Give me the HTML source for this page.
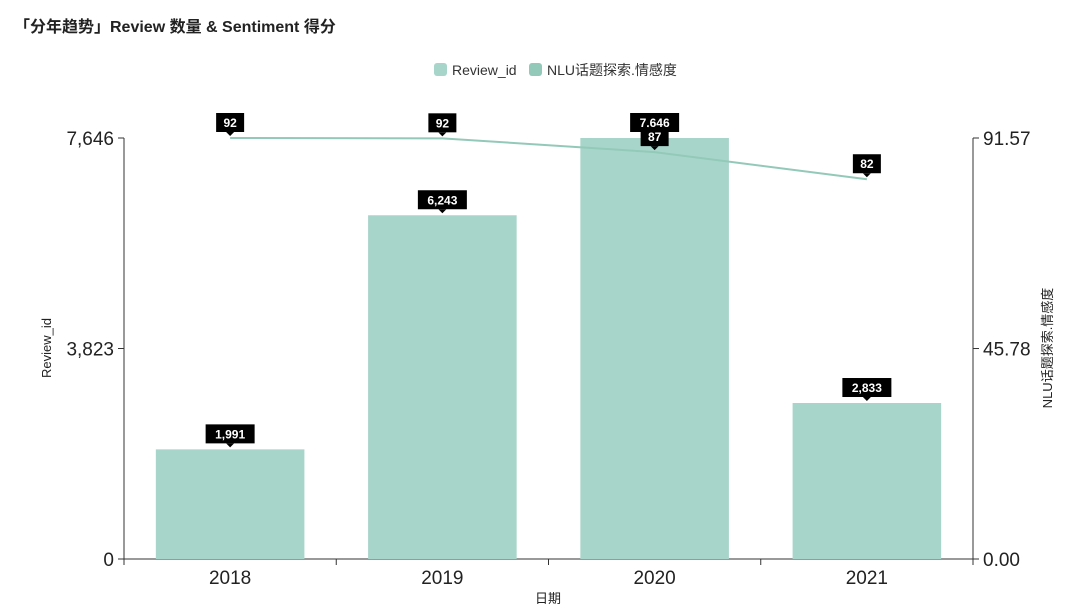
<!DOCTYPE html>
<html><head><meta charset="utf-8"><style>
body{margin:0;background:#fff;font-family:"Liberation Sans","Noto Sans CJK SC",sans-serif;}
#wrap{position:relative;width:1089px;height:614px;overflow:hidden;}
</style></head><body>
<div id="wrap">
<svg id="chart" width="1089" height="614" style="font-family:'Liberation Sans','Noto Sans CJK SC',sans-serif">
<text x="14" y="32" font-size="16" font-weight="bold" fill="#222">「分年趋势」Review 数量 &amp; Sentiment 得分</text>
<g>
<rect x="434" y="63" width="13" height="13" rx="3" fill="#a8d5ca"/>
<text x="452" y="75" font-size="14" fill="#333">Review_id</text>
<rect x="529" y="63" width="13" height="13" rx="3" fill="#93c9b8"/>
<text x="547" y="75" font-size="14" fill="#333">NLU话题探索.情感度</text>
</g>
<g id="plot"></g>
</svg>
</div>
<script>
const categories=["2018","2019","2020","2021"];
const reviewValues=[1991,6243,7646,2833];
const sentimentValues=[91.57,91.5,88.5,82.6];
const sentimentLabels=["92","92","87","82"];
const leftTicks=[0,3823,7646];
const leftTickLabels=["0","3,823","7,646"];
const rightTicks=[0,45.78,91.57];
const rightTickLabels=["0.00","45.78","91.57"];

const NS="http://www.w3.org/2000/svg";
const g=document.getElementById('plot');
const X0=124,X1=973,Y0=559,Y1=138;
const band=(X1-X0)/categories.length;
const xc=i=>X0+band*(i+0.5);
const yL=v=>Y0-(v/7646)*(Y0-Y1);
const yR=v=>Y0-(v/91.57)*(Y0-Y1);
function el(t,a,p){const e=document.createElementNS(NS,t);for(const k in a)e.setAttribute(k,a[k]);(p||g).appendChild(e);return e;}
function fmt(n){return n.toLocaleString('en-US');}

// axes
let ax=el('line',{x1:X0,y1:Y1,x2:X0,y2:Y0,stroke:'#333'});

let ax2=el('line',{x1:X1,y1:Y1,x2:X1,y2:Y0,stroke:'#333'});

let ax3=el('line',{x1:X0,y1:Y0,x2:X1,y2:Y0,stroke:'#333'});

leftTicks.forEach((v,i)=>{el('line',{x1:X0-6,y1:yL(v),x2:X0,y2:yL(v),stroke:'#333'});
 const t=el('text',{x:X0-10,y:yL(v)+7,'font-size':19,'text-anchor':'end',fill:'#222'});t.textContent=leftTickLabels[i];
 });
rightTicks.forEach((v,i)=>{el('line',{x1:X1,y1:yR(v),x2:X1+6,y2:yR(v),stroke:'#333'});
 const t=el('text',{x:X1+10,y:yR(v)+7,'font-size':19,fill:'#222'});t.textContent=rightTickLabels[i];
 });
categories.forEach((c,i)=>{el('line',{x1:X0+band*i,y1:Y0,x2:X0+band*i,y2:Y0+6,stroke:'#333'});
 const t=el('text',{x:xc(i),y:584,'font-size':19,'text-anchor':'middle',fill:'#222'});t.textContent=c;
 });
el('line',{x1:X1,y1:Y0,x2:X1,y2:Y0+6,stroke:'#333'});
let xt=el('text',{x:548,y:603,'font-size':13,'text-anchor':'middle',fill:'#222'});xt.textContent='日期';

let yt=el('text',{x:51,y:348,'font-size':13,'text-anchor':'middle',fill:'#222',transform:'rotate(-90 51 348)'});yt.textContent='Review_id';

let yt2=el('text',{x:1052,y:348,'font-size':13,'text-anchor':'middle',fill:'#222',transform:'rotate(-90 1052 348)'});yt2.textContent='NLU话题探索.情感度';


function label(x,y,txt,name){
 const gg=el('g',{});
 const w=txt.length*7+14;
 el('rect',{x:x-w/2,y:y-25,width:w,height:19,fill:'#000'},gg);
 el('path',{d:`M${x-4} ${y-6}L${x+4} ${y-6}L${x} ${y-2}Z`,fill:'#000'},gg);
 const t=el('text',{x:x,y:y-11,'font-size':12,'text-anchor':'middle',fill:'#fff','font-weight':'bold'},gg);t.textContent=txt;
}
const bw=band*0.7;
reviewValues.forEach((v,i)=>{
 const r=el('rect',{x:xc(i)-bw/2,y:yL(v),width:bw,height:Y0-yL(v),fill:'#a8d5ca'});
 
});
const pts=sentimentValues.map((v,i)=>xc(i)+','+yR(v)).join(' ');
const pl=el('polyline',{points:pts,fill:'none',stroke:'#93c9b8','stroke-width':2});

reviewValues.forEach((v,i)=>label(xc(i),yL(v),fmt(v),'bar-value-label'));
sentimentValues.forEach((v,i)=>label(xc(i),yR(v),sentimentLabels[i],'line-value-label'));
</script>
</body></html>
